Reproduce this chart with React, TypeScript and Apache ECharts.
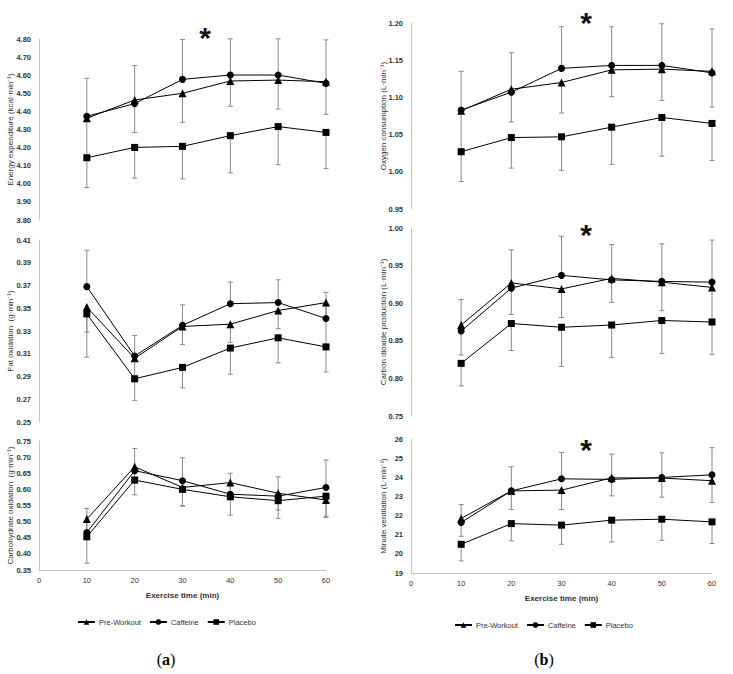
import React, { useEffect, useRef } from "react";
import * as echarts from "echarts";

const xMinutes = [10, 20, 30, 40, 50, 60];
const seriesNames = ["Pre-Workout", "Caffeine", "Placebo"];

// Energy expenditure (kcal·min-1)
const eePre = [4.362, 4.463, 4.5, 4.568, 4.573, 4.564];
const eeCaf = [4.373, 4.443, 4.577, 4.601, 4.601, 4.555];
const eePla = [4.144, 4.201, 4.207, 4.266, 4.316, 4.284];
const eeCafUp = [0.21, 0.21, 0.22, 0.2, 0.2, 0.24];
const eePreDown = [0.22, 0.18, 0.16, 0.14, 0.16, 0.18];
const eePlaDown = [0.165, 0.17, 0.18, 0.205, 0.21, 0.2];

// Fat oxidation (g·min-1)
const fatPre = [0.351, 0.306, 0.334, 0.336, 0.348, 0.355];
const fatCaf = [0.369, 0.308, 0.335, 0.354, 0.355, 0.341];
const fatPla = [0.345, 0.288, 0.298, 0.315, 0.324, 0.316];
const fatCafUp = [0.032, 0.018, 0.018, 0.019, 0.02, 0.023];
const fatPreDown = [0.022, 0.018, 0.016, 0.016, 0.016, 0.039];
const fatPlaDown = [0.038, 0.019, 0.018, 0.023, 0.022, 0.022];

// Carbohydrate oxidation (g·min-1)
const choPre = [0.508, 0.67, 0.606, 0.621, 0.588, 0.567];
const choCaf = [0.466, 0.658, 0.627, 0.585, 0.579, 0.606];
const choPla = [0.453, 0.629, 0.6, 0.577, 0.565, 0.579];
const choCafUp = [0.075, 0.069, 0.071, 0.065, 0.06, 0.085];
const choPreDown = [0.06, 0.05, 0.056, 0.04, 0.052, 0.05];
const choPlaDown = [0.082, 0.046, 0.052, 0.057, 0.055, 0.066];

// Oxygen consumption (L·min-1)
const vo2Pre = [1.082, 1.111, 1.12, 1.137, 1.138, 1.135];
const vo2Caf = [1.083, 1.107, 1.139, 1.143, 1.143, 1.133];
const vo2Pla = [1.027, 1.046, 1.047, 1.06, 1.073, 1.065];
const vo2CafUp = [0.052, 0.053, 0.056, 0.052, 0.056, 0.059];
const vo2PreDown = [0.055, 0.044, 0.041, 0.036, 0.042, 0.048];
const vo2PlaDown = [0.04, 0.041, 0.045, 0.05, 0.052, 0.05];

// Carbon dioxide production (L·min-1)
const co2Pre = [0.871, 0.927, 0.919, 0.933, 0.928, 0.921];
const co2Caf = [0.863, 0.92, 0.937, 0.931, 0.929, 0.928];
const co2Pla = [0.82, 0.873, 0.868, 0.871, 0.877, 0.875];
const co2CafUp = [0.042, 0.051, 0.052, 0.047, 0.05, 0.056];
const co2PreDown = [0.04, 0.042, 0.038, 0.032, 0.038, 0.046];
const co2PlaDown = [0.03, 0.036, 0.052, 0.043, 0.044, 0.043];

// Minute ventilation (L·min-1)
const vePre = [21.85, 23.29, 23.33, 23.97, 23.96, 23.82];
const veCaf = [21.64, 23.29, 23.92, 23.89, 23.99, 24.13];
const vePla = [20.5, 21.58, 21.5, 21.76, 21.81, 21.67];
const veCafUp = [0.94, 1.26, 1.38, 1.32, 1.29, 1.42];
const vePreDown = [0.93, 0.97, 1.01, 0.94, 1.0, 1.14];
const vePlaDown = [0.87, 0.9, 1.0, 1.14, 1.1, 1.13];

const panelTitles = [
  "Energy expenditure (kcal·min⁻¹)",
  "Fat oxidation  (g·min⁻¹)",
  "Carbohydrate oxidation  (g·min⁻¹)",
  "Oxygen consumption (L·min⁻¹)",
  "Carbon dioxide production (L·min⁻¹)",
  "Minute ventilation (L·min⁻¹)",
];
const yMins = [3.8, 0.25, 0.35, 0.95, 0.75, 19];
const yMaxs = [4.8, 0.41, 0.75, 1.2, 1.0, 26];
const yIntervals = [0.1, 0.02, 0.05, 0.05, 0.05, 1];
const yDecimals = [2, 2, 2, 2, 2, 0];
const xAxisTitle = "Exercise time (min)";

const FONT = "Liberation Sans, Arial, sans-serif";
const TEXT = "#333333";
const AXIS = "#c4c4c4";
const ERR = "#8a8a8a";

export default function App() {
  const ref = useRef<HTMLDivElement>(null);

  useEffect(() => {
    if (!ref.current) return;
    const chart = echarts.init(ref.current, undefined, { renderer: "svg" });

    const panels = [
      { pre: eePre, caf: eeCaf, pla: eePla, cafUp: eeCafUp, preDown: eePreDown, plaDown: eePlaDown },
      { pre: fatPre, caf: fatCaf, pla: fatPla, cafUp: fatCafUp, preDown: fatPreDown, plaDown: fatPlaDown },
      { pre: choPre, caf: choCaf, pla: choPla, cafUp: choCafUp, preDown: choPreDown, plaDown: choPlaDown },
      { pre: vo2Pre, caf: vo2Caf, pla: vo2Pla, cafUp: vo2CafUp, preDown: vo2PreDown, plaDown: vo2PlaDown },
      { pre: co2Pre, caf: co2Caf, pla: co2Pla, cafUp: co2CafUp, preDown: co2PreDown, plaDown: co2PlaDown },
      { pre: vePre, caf: veCaf, pla: vePla, cafUp: veCafUp, preDown: vePreDown, plaDown: vePlaDown },
    ];

    const grids = [
      { left: 39, top: 39, width: 287, height: 181 },
      { left: 39, top: 240, width: 287, height: 182 },
      { left: 39, top: 441, width: 287, height: 129 },
      { left: 411, top: 23, width: 301, height: 186 },
      { left: 411, top: 228, width: 301, height: 188 },
      { left: 411, top: 439, width: 301, height: 134 },
    ];

    const isBottom = (i: number) => i === 2 || i === 5;

    const xAxes = grids.map((_, i) => ({
      type: "value",
      gridIndex: i,
      min: 0,
      max: 60,
      interval: 10,
      show: isBottom(i),
      axisLine: { show: true, lineStyle: { color: AXIS, width: 1 } },
      axisTick: { show: false },
      splitLine: { show: false },
      axisLabel: { fontSize: 7.5, color: TEXT, fontFamily: FONT, margin: 6 },
      name: isBottom(i) ? xAxisTitle : "",
      nameLocation: "middle",
      nameGap: 21,
      nameTextStyle: { fontSize: 8, fontWeight: "bold", color: TEXT, fontFamily: FONT },
    }));

    const yAxes = grids.map((_, i) => ({
      type: "value",
      gridIndex: i,
      min: yMins[i],
      max: yMaxs[i],
      interval: yIntervals[i],
      axisLine: { show: true, lineStyle: { color: AXIS, width: 1 } },
      axisTick: { show: false },
      splitLine: { show: false },
      axisLabel: {
        fontSize: 7.5,
        color: TEXT,
        fontFamily: FONT,
        margin: 8,
        fontWeight: "bold",
        formatter: (v: number) => v.toFixed(yDecimals[i]),
      },
    }));

    const errRender = (params: any, api: any) => {
      const x = api.value(0);
      const from = api.coord([x, api.value(1)]);
      const to = api.coord([x, api.value(2)]);
      const cap = 2.5;
      return {
        type: "group",
        children: [
          {
            type: "line",
            shape: { x1: from[0], y1: from[1], x2: to[0], y2: to[1] },
            style: { stroke: ERR, lineWidth: 1 },
          },
          {
            type: "line",
            shape: { x1: to[0] - cap, y1: to[1], x2: to[0] + cap, y2: to[1] },
            style: { stroke: ERR, lineWidth: 1 },
          },
        ],
      };
    };

    const series: any[] = [];
    panels.forEach((p, i) => {
      const errSets = [
        xMinutes.map((x, k) => [x, p.caf[k], p.caf[k] + p.cafUp[k]]),
        xMinutes.map((x, k) => [x, p.pre[k], p.pre[k] - p.preDown[k]]),
        xMinutes.map((x, k) => [x, p.pla[k], p.pla[k] - p.plaDown[k]]),
      ];
      errSets.forEach((d) => {
        series.push({
          type: "custom",
          xAxisIndex: i,
          yAxisIndex: i,
          renderItem: errRender,
          encode: { x: 0, y: [1, 2] },
          data: d,
          z: 1,
          silent: true,
        });
      });
      const lines = [
        { name: seriesNames[0], vals: p.pre, symbol: "triangle", size: 8 },
        { name: seriesNames[1], vals: p.caf, symbol: "circle", size: 7 },
        { name: seriesNames[2], vals: p.pla, symbol: "rect", size: 7 },
      ];
      lines.forEach((l) => {
        series.push({
          type: "line",
          name: l.name,
          xAxisIndex: i,
          yAxisIndex: i,
          data: xMinutes.map((x, k) => [x, l.vals[k]]),
          symbol: l.symbol,
          symbolSize: l.size,
          showAllSymbol: true,
          lineStyle: { color: "#000", width: 1 },
          itemStyle: { color: "#000" },
          z: 3,
        });
      });
    });

    const yTitlePos = [
      { x: 10, y: 39 + 181 / 2 },
      { x: 10, y: 240 + 182 / 2 },
      { x: 10, y: 441 + 129 / 2 },
      { x: 383, y: 23 + 186 / 2 },
      { x: 383, y: 228 + 188 / 2 },
      { x: 383, y: 439 + 134 / 2 },
    ];

    const graphics: any[] = yTitlePos.map((pos, i) => ({
      type: "text",
      x: pos.x,
      y: pos.y,
      rotation: Math.PI / 2,
      style: {
        text: panelTitles[i],
        fontSize: 8,
        fontFamily: FONT,
        fill: TEXT,
        align: "center",
        verticalAlign: "middle",
      },
    }));

    const asterisks = [
      { x: 205, y: 30 },
      { x: 586, y: 15 },
      { x: 586, y: 227 },
      { x: 586, y: 442 },
    ];
    asterisks.forEach((a) => {
      graphics.push({
        type: "text",
        x: a.x,
        y: a.y + 7,
        style: {
          text: "*",
          fontSize: 30,
          fontWeight: "bold",
          fontFamily: FONT,
          fill: "#111",
          align: "center",
          verticalAlign: "middle",
        },
      });
    });

    [
      { x: 166, y: 659, l: "a" },
      { x: 544, y: 659, l: "b" },
    ].forEach((t) => {
      graphics.push({
        type: "text",
        x: t.x,
        y: t.y,
        style: {
          text: "{p|(}{b|" + t.l + "}{p|)}",
          align: "center",
          verticalAlign: "middle",
          rich: {
            p: { fontSize: 16, fontFamily: "Liberation Serif, serif", fill: "#000" },
            b: { fontSize: 16, fontFamily: "Liberation Serif, serif", fontWeight: "bold", fill: "#000" },
          },
        },
      });
    });

    const legendBase = {
      data: seriesNames,
      itemWidth: 17,
      itemHeight: 7,
      itemGap: 8,
      orient: "horizontal",
      textStyle: { fontSize: 7.5, color: TEXT, fontFamily: FONT, padding: [0, 0, 0, -1] },
      selectedMode: false,
    };

    chart.setOption({
      animation: false,
      backgroundColor: "#fff",
      grid: grids,
      xAxis: xAxes,
      yAxis: yAxes,
      series,
      legend: [
        { ...legendBase, left: 72, top: 613 },
        { ...legendBase, left: 449, top: 616 },
      ],
      graphic: graphics,
    });

    return () => chart.dispose();
  }, []);

  return (
    <div
      ref={ref}
      style={{ position: "absolute", left: 0, top: 0, width: 733, height: 674 }}
    />
  );
}
